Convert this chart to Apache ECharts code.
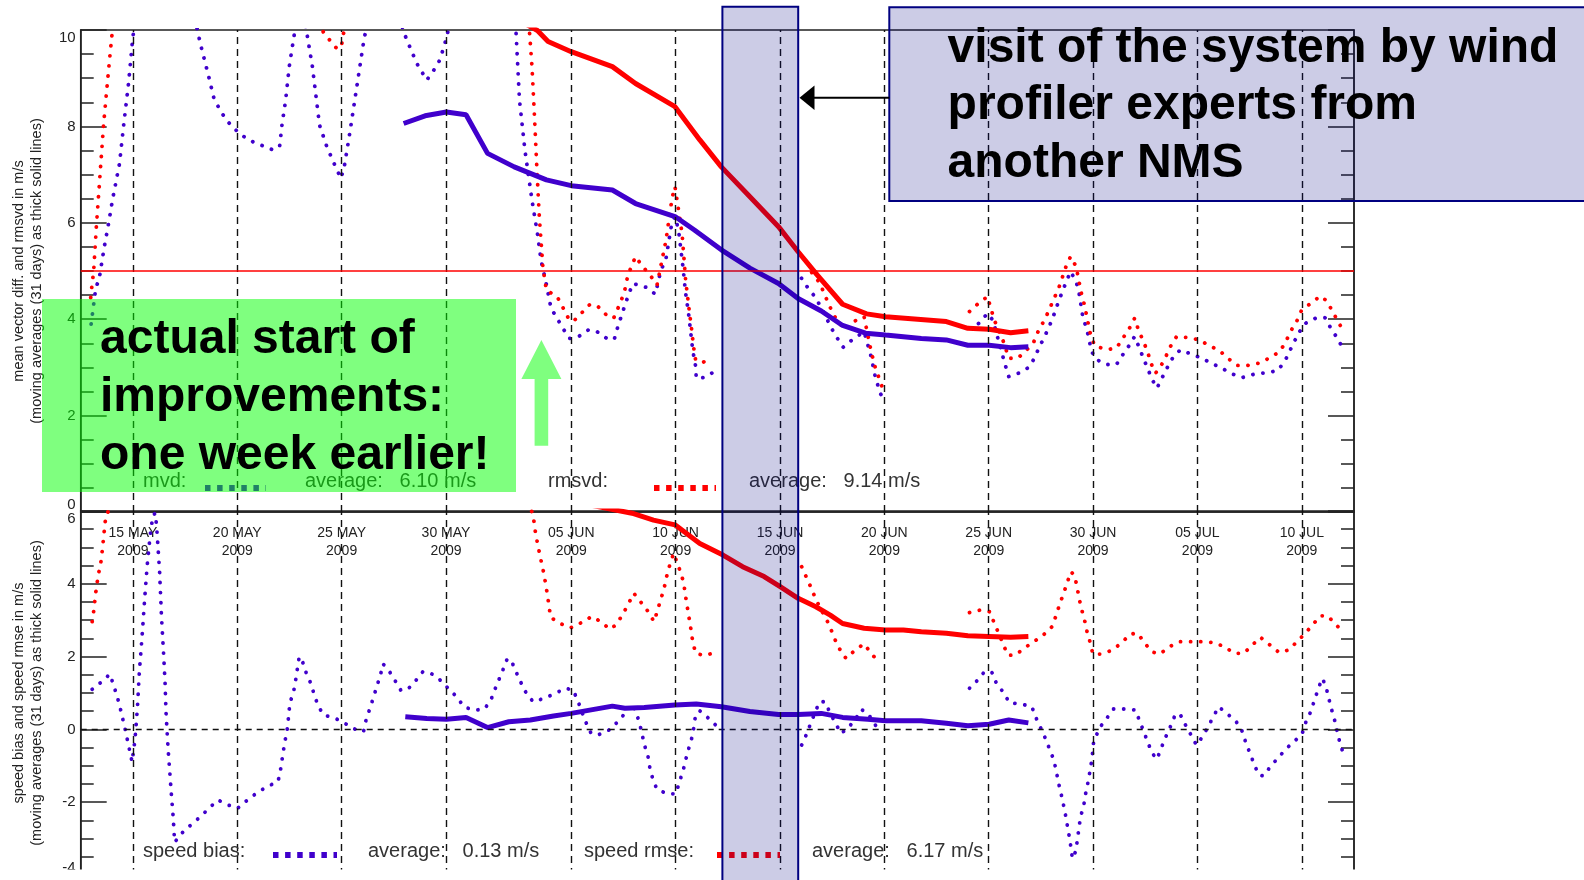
<!DOCTYPE html>
<html>
<head>
<meta charset="utf-8">
<script src="https://cdn.jsdelivr.net/npm/echarts@6/dist/echarts.min.js"></script>
<style>
html, body { margin: 0; padding: 0; background: #fff; }
#chart { width: 1584px; height: 880px; }
</style>
</head>
<body>
<div id="chart"></div>
<script>
// x values are days counted from 15 MAY 2009
var tickDays = [0, 5, 10, 15, 21, 26, 31, 36, 41, 46, 51, 56];
var tickLabels = ['15 MAY\n2009', '20 MAY\n2009', '25 MAY\n2009', '30 MAY\n2009', '05 JUN\n2009', '10 JUN\n2009',
    '15 JUN\n2009', '20 JUN\n2009', '25 JUN\n2009', '30 JUN\n2009', '05 JUL\n2009', '10 JUL\n2009'];

var mvdLimit = 5;
var biasZero = 0;

// top panel: mvd (dotted) and its 31 day average (thick)
var mvdDots = [[-2.0,3.9],[-1.78,4.64],[-1.61,4.85],[-1.37,5.5],[-1.15,6.02],[-0.98,6.47],[-0.64,7.23],[-0.46,7.96],[-0.21,8.89],[0,9.86],[1.5,14],
    [3.04,10.1],[3.23,9.72],[3.64,9.02],[3.9,8.55],[4.44,8.15],[4.84,7.96],[5.27,7.8],[5.75,7.68],[6.72,7.51],[7.03,7.59],[7.15,8.06],[7.32,8.55],[7.49,9.24],[7.75,9.96],[8.03,10.6],
    [8.31,10.0],[8.6,9.24],[8.94,8.03],[9.29,7.58],[9.71,7.16],[9.97,6.92],[10.14,7.2],[10.4,7.89],[10.74,8.86],[11.08,9.83],[12.0,11.5],
    [12.97,9.96],[13.39,9.52],[13.65,9.27],[14.08,8.96],[14.42,9.17],[14.71,9.38],[15.02,9.83],[16.7,13],
    [18.35,10.0],[18.52,8.55],[18.78,7.51],[19.12,6.47],[19.38,5.78],[19.55,5.23],[19.81,4.72],[20.03,4.23],[20.32,4.02],[20.63,3.79],[20.92,3.6],[21.35,3.64],[21.83,3.78],[22.24,3.74],[22.71,3.6],[23.06,3.58],[23.23,3.84],[23.57,4.29],[23.74,4.5],[23.95,4.74],[24.6,4.66],[25.03,4.52],[25.28,4.99],[25.54,5.26],[25.79,5.92],[25.97,6.13],[26.14,5.85],[26.35,5.09],[26.48,4.54],[26.62,4.12],[26.71,3.78],[26.82,3.36],[26.96,3.02],[26.99,2.77],[27.37,2.79],[27.85,2.91],[28.0,null],
    [32.03,4.85],[32.35,4.64],[32.67,4.47],[32.99,4.23],[33.47,3.81],[33.74,3.61],[34.03,3.42],[34.45,3.57],[35.03,3.74],[35.37,3.22],[35.55,2.84],[35.8,2.46],[35.97,2.36],[36.2,null],
    [40.51,3.91],[40.94,4.12],[41.2,3.98],[41.79,3.05],[41.96,2.81],[42.43,2.88],[42.92,3.0],[43.19,3.19],[43.41,3.41],[43.68,3.64],[43.91,3.86],[44.12,4.09],[44.3,4.31],[44.48,4.52],[44.7,4.76],[44.92,4.99],[45.19,4.78],[45.33,4.54],[45.5,4.07],[45.67,3.82],[45.81,3.6],[45.9,3.36],[46.13,3.17],[46.65,3.06],[47.12,3.06],[47.42,3.26],[47.74,3.46],[47.99,3.64],[48.22,3.4],[48.43,3.17],[48.63,2.96],[48.84,2.74],[49.06,2.57],[49.29,2.77],[49.56,3.0],[49.83,3.21],[50.17,3.36],[50.69,3.28],[51.17,3.2],[51.7,3.08],[52.18,2.98],[52.69,2.86],[53.16,2.79],[53.73,2.86],[54.29,2.89],[54.83,2.93],[55.18,3.12],[55.41,3.33],[55.62,3.52],[55.89,3.74],[56.16,3.91],[56.7,4.03],[57.11,4.03],[57.38,3.82],[57.68,3.62],[57.95,3.41]];
var mvdAvg = [[12.97,8.06],[14.0,8.22],[15.02,8.3],[15.96,8.24],[16.99,7.44],[18.27,7.16],[19.81,6.89],[21.0,6.77],[22.97,6.68],[24.08,6.4],[25.97,6.13],[26.9,5.85],[28.19,5.44],[29.56,5.06],[30.93,4.74],[31.87,4.43],[32.98,4.17],[34.0,3.87],[35.1,3.71],[36.06,3.67],[37.77,3.6],[38.97,3.57],[40.0,3.46],[41.02,3.46],[42.05,3.41],[42.9,3.43]];

// top panel: rmsvd
var rmsvdDots = [[-2.02,4.45],[-1.96,4.71],[-1.88,4.99],[-1.75,5.92],[-1.58,6.96],[-1.4,8.06],[-1.15,9.24],[-0.98,10.0],[1,13],[5,12.5],[8,11],
    [9.12,9.96],[9.43,9.79],[9.8,9.6],[10.0,9.69],[10.09,9.93],[12,12],[16,12.5],
    [19.0,9.96],[19.12,9.24],[19.24,8.2],[19.35,7.16],[19.47,6.13],[19.64,5.09],[19.81,4.6],[20.32,4.47],[20.58,4.26],[20.84,4.04],[21.09,3.95],[21.52,4.14],[21.9,4.31],[22.29,4.26],[22.68,4.09],[23.03,4.02],[23.31,4.3],[23.54,4.55],[23.71,4.91],[24.08,5.3],[24.39,5.11],[24.77,4.92],[25.11,4.71],[25.54,5.64],[25.83,6.51],[25.97,6.75],[26.14,6.27],[26.31,5.78],[26.48,4.81],[26.65,4.19],[26.77,3.78],[26.86,3.43],[26.96,3.15],[27.3,3.1],[27.73,3.22],[27.9,null],
    [32.52,4.97],[32.91,4.75],[33.15,4.5],[33.39,4.26],[33.63,4.05],[34.11,3.78],[34.51,3.95],[35.03,4.05],[35.37,3.33],[35.55,3.02],[35.89,2.6],[36.2,null],
    [40.08,4.16],[40.51,4.33],[40.94,4.47],[41.1,4.23],[41.27,3.98],[41.71,3.53],[41.96,3.19],[42.39,3.19],[42.82,3.36],[43.16,3.53],[43.4,3.78],[43.67,3.98],[43.89,4.19],[44.12,4.42],[44.35,4.64],[44.7,5.09],[44.92,5.3],[45.19,5.09],[45.42,4.57],[45.55,4.36],[45.67,4.12],[45.78,3.88],[45.9,3.64],[46.09,3.44],[46.67,3.37],[47.12,3.4],[47.42,3.6],[47.74,3.81],[47.99,4.02],[48.17,3.78],[48.4,3.55],[48.61,3.33],[48.76,3.1],[48.99,2.88],[49.2,2.99],[49.47,3.21],[49.7,3.43],[50.0,3.64],[50.5,3.62],[51.1,3.57],[51.57,3.45],[52.05,3.35],[52.46,3.19],[52.91,3.04],[53.4,3.04],[53.97,3.09],[54.47,3.2],[54.95,3.33],[55.23,3.53],[55.45,3.74],[55.75,3.95],[55.98,4.18],[56.43,4.33],[56.88,4.48],[57.2,4.38],[57.47,4.16],[57.74,3.95],[57.98,3.76]];
var rmsvdAvg = [[13,11.6],[16,10.8],[19.38,9.99],[19.89,9.76],[21.0,9.55],[22.97,9.24],[24.08,8.89],[25.97,8.41],[27.16,7.72],[28.19,7.16],[29.56,6.54],[30.93,5.92],[31.87,5.4],[32.78,4.92],[34.0,4.31],[35.15,4.11],[36.06,4.05],[38.97,3.95],[40.0,3.81],[41.02,3.79],[42.05,3.72],[42.9,3.76]];

// bottom panel: speed bias
var biasDots = [[-1.95,1.1],[-1.49,1.31],[-1.1,1.52],[-0.8,0.99],[-0.64,0.67],[-0.52,0.37],[-0.38,0.03],[-0.21,-0.43],[-0.04,-0.89],[0.1,-0.29],[0.22,0.62],[0.31,1.59],[0.44,2.55],[0.56,3.55],[0.68,4.47],[0.82,5.29],[0.96,5.89],[1.08,5.94],[1.16,5.39],[1.28,4.33],[1.37,3.1],[1.47,2.09],[1.54,1.31],[1.59,0.44],[1.68,-0.48],[1.76,-1.11],[1.84,-1.76],[1.93,-2.4],[2.0,-3.1],
    [2.41,-2.81],[2.87,-2.58],[3.27,-2.38],[3.64,-2.17],[4.07,-1.94],[4.58,-2.08],[5.01,-2.17],[5.49,-1.94],[5.95,-1.74],[6.43,-1.57],[6.95,-1.44],[7.06,-1.16],[7.23,-0.52],[7.41,0.07],[7.52,0.72],[7.7,1.04],[7.8,1.36],[7.97,2.0],[8.14,1.84],[8.31,1.54],[8.52,1.27],[8.69,0.95],[8.86,0.67],[9.12,0.4],[9.71,0.3],[10.14,0.17],[10.66,0.0],[11.05,-0.06],[11.17,0.26],[11.34,0.55],[11.51,0.85],[11.68,1.17],[11.86,1.49],[11.98,1.8],[12.25,1.63],[12.54,1.36],[12.83,1.08],[13.13,1.08],[13.51,1.31],[13.9,1.59],[14.28,1.54],[14.71,1.36],[15.1,1.13],[15.5,0.9],[15.87,0.62],[16.3,0.53],[16.81,0.55],[17.12,0.76],[17.33,1.08],[17.53,1.36],[17.76,1.68],[17.94,1.95],[18.18,1.82],[18.39,1.54],[18.62,1.25],[18.87,0.97],[19.18,0.76],[19.68,0.85],[20.2,0.98],[20.72,1.13],[21.09,1.08],[21.3,0.81],[21.69,0.21],[21.95,-0.11],[22.29,-0.15],[22.8,-0.02],[23.23,0.21],[23.57,0.44],[23.95,0.7],[24.26,0.21],[24.51,-0.43],[24.68,-0.75],[24.77,-1.07],[24.91,-1.37],[25.11,-1.65],[25.63,-1.77],[26.02,-1.77],[26.17,-1.46],[26.35,-1.16],[26.48,-0.84],[26.65,-0.48],[26.82,-0.15],[26.96,0.4],[27.16,0.51],[27.59,0.3],[27.97,0.09],[28.1,null],
    [32.04,-0.43],[32.29,-0.11],[32.46,0.15],[32.89,0.76],[33.15,0.76],[33.41,0.44],[33.66,0.17],[33.92,-0.11],[34.26,0.03],[34.69,0.35],[34.89,0.55],[35.21,0.44],[35.51,0.18],[35.8,-0.11],[36.0,null],
    [40.08,1.13],[40.48,1.36],[40.82,1.6],[41.16,1.56],[41.36,1.28],[41.71,1.01],[42.0,0.73],[42.55,0.7],[43.07,0.62],[43.24,0.35],[43.5,0.03],[43.71,-0.24],[43.9,-0.52],[44.12,-0.84],[44.24,-1.16],[44.35,-1.48],[44.48,-1.8],[44.6,-2.12],[44.71,-2.44],[44.8,-2.76],[44.89,-3.04],[45.01,-3.55],[45.16,-3.36],[45.25,-3.04],[45.32,-2.72],[45.4,-2.4],[45.55,-2.1],[45.63,-1.8],[45.76,-1.44],[45.86,-1.12],[45.95,-0.79],[46.02,-0.37],[46.29,0.03],[46.65,0.3],[46.97,0.56],[47.5,0.56],[48.04,0.53],[48.22,0.24],[48.43,-0.06],[48.63,-0.37],[48.84,-0.66],[49.06,-0.82],[49.26,-0.52],[49.47,-0.22],[49.7,0.07],[49.91,0.37],[50.15,0.44],[50.4,0.15],[50.67,-0.13],[50.95,-0.43],[51.22,-0.22],[51.49,0.05],[51.76,0.35],[52.02,0.62],[52.45,0.42],[52.86,0.21],[53.13,-0.04],[53.31,-0.35],[53.72,-0.96],[53.93,-1.25],[54.16,-1.28],[54.5,-1.02],[54.88,-0.77],[55.27,-0.52],[55.68,-0.31],[56.02,-0.11],[56.2,0.21],[56.43,0.49],[56.61,0.81],[56.78,1.1],[56.97,1.4],[57.14,1.22],[57.27,0.9],[57.41,0.58],[57.56,0.28],[57.68,-0.02],[57.8,-0.31],[57.98,-0.66]];
var biasAvg = [[13.05,0.35],[14.08,0.3],[15.02,0.28],[15.96,0.33],[16.99,0.05],[18.01,0.21],[19.04,0.26],[20.15,0.37],[21.0,0.44],[22.97,0.64],[23.57,0.58],[24.5,0.6],[25.97,0.67],[26.99,0.7],[28.19,0.62],[29.56,0.49],[30.93,0.41],[31.87,0.41],[32.98,0.44],[34.0,0.33],[35.21,0.28],[36.06,0.24],[37.77,0.24],[38.97,0.17],[40.0,0.1],[41.02,0.14],[41.96,0.26],[42.9,0.18]];

// bottom panel: speed rmse
var rmseDots = [[-1.95,2.96],[-1.87,3.28],[-1.78,3.75],[-1.66,4.24],[-1.54,4.56],[-1.45,5.0],[-1.36,5.52],[-1.3,5.84],[0,7.5],[10,8],[18,7],
    [19.16,5.94],[19.29,5.39],[19.43,4.98],[19.55,4.65],[19.67,4.33],[19.77,4.01],[19.86,3.69],[19.94,3.37],[20.01,3.08],[20.46,2.91],[20.97,2.79],[21.48,2.93],[21.98,3.1],[22.42,2.96],[22.85,2.75],[23.14,2.87],[23.45,3.14],[23.71,3.42],[24.0,3.74],[24.29,3.53],[24.63,3.28],[24.97,2.96],[25.28,3.55],[25.45,3.88],[25.57,4.2],[25.74,4.56],[25.91,4.84],[26.08,4.56],[26.26,4.29],[26.39,4.01],[26.48,3.65],[26.57,3.33],[26.65,3.05],[26.74,2.73],[26.82,2.41],[26.96,2.09],[27.37,2.03],[27.9,2.11],[28.1,null],
    [32.04,4.47],[32.29,4.15],[32.5,3.88],[32.72,3.57],[32.98,3.28],[33.24,3.01],[33.49,2.68],[33.7,2.38],[33.97,2.09],[34.17,1.95],[34.6,2.18],[35.03,2.35],[35.37,2.09],[35.74,1.84],[36.0,null],
    [40.08,3.21],[40.6,3.28],[41.06,3.23],[41.27,2.91],[41.48,2.64],[41.71,2.32],[41.91,2.04],[42.27,2.04],[42.7,2.23],[43.16,2.41],[43.61,2.59],[44.03,2.82],[44.21,3.1],[44.39,3.42],[44.57,3.71],[44.75,4.01],[44.93,4.33],[45.11,4.24],[45.23,3.92],[45.33,3.6],[45.46,3.28],[45.6,2.98],[45.72,2.66],[45.87,2.37],[45.99,2.07],[46.4,2.07],[46.92,2.18],[47.37,2.38],[47.78,2.62],[48.14,2.64],[48.46,2.38],[48.82,2.13],[49.2,2.07],[49.65,2.27],[50.15,2.41],[50.72,2.41],[51.25,2.41],[51.84,2.38],[52.32,2.26],[52.77,2.09],[53.22,2.09],[53.63,2.32],[54.02,2.53],[54.47,2.32],[54.92,2.11],[55.36,2.18],[55.77,2.41],[56.16,2.64],[56.52,2.87],[56.88,3.12],[57.24,3.12],[57.65,2.87],[57.98,2.68]];
var rmseAvg = [[13,7.4],[18,6.6],[23.91,5.94],[24.94,5.75],[25.97,5.62],[27.16,5.11],[28.27,4.79],[29.21,4.47],[30.24,4.2],[31.01,3.92],[31.87,3.6],[32.72,3.37],[33.41,3.14],[34.0,2.91],[35.03,2.78],[36.06,2.73],[36.91,2.73],[37.77,2.68],[38.97,2.64],[40.0,2.57],[41.02,2.55],[42.05,2.53],[42.9,2.55]];

var BLUE = '#4000cc';
var RED = '#ff0000';
var FONT = '"Liberation Sans", Arial, Helvetica, sans-serif';

var dotted = function(data, color, idx) {
    return {
        type: 'line', xAxisIndex: idx, yAxisIndex: idx * 2, data: data,
        showSymbol: false, symbol: 'none', clip: true, z: 3, silent: true,
        lineStyle: { color: color, width: 3.8, type: [0.1, 10], cap: 'round' }
    };
};

var thick = function(data, color, idx) {
    return {
        type: 'line', xAxisIndex: idx, yAxisIndex: idx * 2, data: data,
        showSymbol: false, symbol: 'none', clip: true, z: 4, silent: true,
        lineStyle: { color: color, width: 5 }
    };
};

var guides = function(idx, extra) {
    var lines = tickDays.map(function(d) { return { xAxis: d }; });
    return {
        type: 'line', xAxisIndex: idx, yAxisIndex: idx * 2, data: [], z: 1, silent: true,
        markLine: {
            symbol: 'none', silent: true, animation: false, label: { show: false },
            lineStyle: { color: '#111', type: [7, 5], width: 1.4 },
            data: lines.concat(extra)
        }
    };
};

var leftAxis = function(idx, min, max, name) {
    return {
        type: 'value', gridIndex: idx, position: 'left', min: min, max: max, interval: 2,
        axisLine: { show: true, onZero: false, lineStyle: { color: '#222', width: 1.5 } },
        axisTick: { show: true, inside: true, length: 26, lineStyle: { color: '#222', width: 1.5 } },
        minorTick: { show: true, splitNumber: 4, length: 13, lineStyle: { color: '#222', width: 1.5 } },
        splitLine: { show: false },
        axisLabel: {
            show: true, margin: 5, fontSize: 15, color: '#222', fontFamily: FONT,
            verticalAlignMaxLabel: 'top', verticalAlignMinLabel: 'bottom'
        },
        name: name, nameLocation: 'middle', nameRotate: 90, nameGap: 34,
        nameTextStyle: { fontSize: 14.5, lineHeight: 18.5, color: '#222', fontFamily: FONT }
    };
};

var rightAxis = function(idx, min, max) {
    return {
        type: 'value', gridIndex: idx, position: 'right', min: min, max: max, interval: 2,
        axisLine: { show: true, onZero: false, lineStyle: { color: '#222', width: 1.5 } },
        axisTick: { show: true, inside: true, length: 26, lineStyle: { color: '#222', width: 1.5 } },
        minorTick: { show: true, splitNumber: 4, length: 13, lineStyle: { color: '#222', width: 1.5 } },
        splitLine: { show: false },
        axisLabel: { show: false }
    };
};

var legendText = function(x, y, text) {
    return {
        type: 'text', x: x, y: y, z: 10, silent: true,
        style: { text: text, fill: '#333', fontSize: 20, fontFamily: FONT, verticalAlign: 'middle', textVerticalAlign: 'middle' }
    };
};

var legendSample = function(x1, x2, y, color) {
    return {
        type: 'line', z: 10, silent: true,
        shape: { x1: x1, y1: y, x2: x2, y2: y },
        style: { stroke: color, lineWidth: 6, lineDash: [5.5, 6.6] }
    };
};

var overlay = 'rgba(0,0,128,0.2)';

var option = {
    animation: false,
    backgroundColor: '#fff',
    grid: [
        { left: 80.7, width: 1273.3, top: 30, height: 482, show: true, borderColor: '#222', borderWidth: 1.5 },
        { left: 80.7, width: 1273.3, top: 511, height: 364, show: true, borderColor: '#222', borderWidth: 1.5 }
    ],
    xAxis: [
        {
            type: 'value', gridIndex: 0, min: -2.5, max: 58.5,
            axisLine: { show: true, onZero: false, lineStyle: { color: '#222', width: 1.5 } },
            axisTick: { show: false }, splitLine: { show: false },
            axisLabel: {
                show: true, customValues: tickDays, margin: 12, fontSize: 14, lineHeight: 18,
                color: '#222', fontFamily: FONT,
                formatter: function(v) {
                    var i = tickDays.indexOf(v);
                    return i >= 0 ? tickLabels[i] : '';
                }
            }
        },
        {
            type: 'value', gridIndex: 1, min: -2.5, max: 58.5,
            axisLine: { show: false, onZero: false }, axisTick: { show: false },
            splitLine: { show: false }, axisLabel: { show: false }
        }
    ],
    yAxis: [
        leftAxis(0, 0, 10, 'mean vector diff. and rmsvd in m/s\n(moving averages (31 days) as thick solid lines)'),
        rightAxis(0, 0, 10),
        leftAxis(1, -4, 6, 'speed bias and speed rmse in m/s\n(moving averages (31 days) as thick solid lines)'),
        rightAxis(1, -4, 6)
    ],
    series: [
        guides(0, [{ yAxis: mvdLimit, lineStyle: { color: RED, type: 'solid', width: 1.5 } }]),
        guides(1, [{ yAxis: biasZero, lineStyle: { color: '#111', type: [6, 5], width: 1.4 } }]),
        dotted(mvdDots, BLUE, 0),
        dotted(rmsvdDots, RED, 0),
        thick(rmsvdAvg, RED, 0),
        thick(mvdAvg, BLUE, 0),
        dotted(biasDots, BLUE, 1),
        dotted(rmseDots, RED, 1),
        thick(rmseAvg, RED, 1),
        thick(biasAvg, BLUE, 1)
    ],
    graphic: [
        // legends
        legendText(143, 481.7, 'mvd:'),
        legendSample(205, 266, 488, BLUE),
        legendText(305, 481.7, 'average:   6.10 m/s'),
        legendText(548, 481.7, 'rmsvd:'),
        legendSample(654, 716, 488, RED),
        legendText(749, 481.7, 'average:   9.14 m/s'),
        legendText(143, 851, 'speed bias:'),
        legendSample(273, 337, 855, BLUE),
        legendText(368, 851, 'average:   0.13 m/s'),
        legendText(584, 851, 'speed rmse:'),
        legendSample(717, 780, 855, RED),
        legendText(812, 851, 'average:   6.17 m/s'),
        // the picture is cut below here
        { type: 'rect', z: 40, silent: true, shape: { x: 0, y: 869.5, width: 1584, height: 12 }, style: { fill: '#fff' } },
        // visit period band
        { type: 'rect', z: 50, silent: true, shape: { x: 722.4, y: 6.7, width: 75.8, height: 890 },
          style: { fill: overlay, stroke: '#000080', lineWidth: 2 } },
        // annotation box
        { type: 'rect', z: 50, silent: true, shape: { x: 889.3, y: 7.3, width: 720, height: 193.7 },
          style: { fill: overlay, stroke: '#000080', lineWidth: 2 } },
        { type: 'text', z: 60, silent: true, x: 947.6, y: 19.8,
          style: { text: 'visit of the system by wind\nprofiler experts from\nanother NMS', fill: '#000',
                   fontSize: 48, fontWeight: 'bold', fontFamily: FONT, lineHeight: 57.5,
                   verticalAlign: 'top', textVerticalAlign: 'top' } },
        { type: 'line', z: 60, silent: true, shape: { x1: 889.3, y1: 97.7, x2: 812, y2: 97.7 },
          style: { stroke: '#000', lineWidth: 2 } },
        { type: 'polygon', z: 60, silent: true, shape: { points: [[799.5, 97.7], [814.5, 85.5], [814.5, 110]] },
          style: { fill: '#000' } },
        // green annotation
        { type: 'rect', z: 50, silent: true, shape: { x: 42, y: 299, width: 474, height: 193 },
          style: { fill: 'rgba(0,255,0,0.5)' } },
        { type: 'text', z: 60, silent: true, x: 100, y: 310.5,
          style: { text: 'actual start of\nimprovements:\none week earlier!', fill: '#000',
                   fontSize: 48, fontWeight: 'bold', fontFamily: FONT, lineHeight: 58,
                   verticalAlign: 'top', textVerticalAlign: 'top' } },
        { type: 'polygon', z: 50, silent: true,
          shape: { points: [[541.4, 340], [521.4, 379], [534.6, 379], [534.6, 445.7], [548.2, 445.7], [548.2, 379], [561.4, 379]] },
          style: { fill: 'rgba(0,255,0,0.5)' } }
    ]
};

var chartDom = document.getElementById('chart');
var myChart = echarts.init(chartDom);
myChart.setOption(option, true);
</script>
</body>
</html>
